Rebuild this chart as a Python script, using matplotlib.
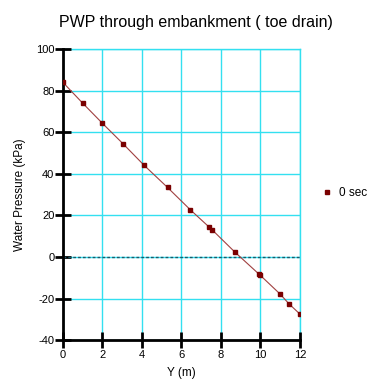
import matplotlib
matplotlib.use("Agg")
import matplotlib.pyplot as plt

plt.rcParams['font.family'] = ['Liberation Sans', 'DejaVu Sans']
plt.rcParams['axes.unicode_minus'] = False

# pore water pressure along the section at t = 0 sec
y_m = [0.0, 1.0, 2.0, 3.05, 4.1, 5.3, 6.45, 7.4, 7.55, 8.7, 9.93, 10.0, 11.0, 11.45, 12.0]
pwp_kpa = [84.0, 74.0, 64.3, 54.4, 44.2, 33.4, 22.7, 14.4, 13.1, 2.4, -8.3, -8.9, -17.9, -22.6, -27.5]
series_label = "0 sec"

x_ticks = [0, 2, 4, 6, 8, 10, 12]
y_ticks = [-40, -20, 0, 20, 40, 60, 80, 100]

fig = plt.figure(figsize=(3.74, 3.80), dpi=100)
ax = fig.add_axes([0.168, 0.105, 0.634, 0.766])

ax.plot(y_m, pwp_kpa, color='#a04040', lw=0.8, zorder=3)
ax.plot(y_m, pwp_kpa, ls='none', marker='s', ms=3.2, color='#7a0000',
        label=series_label, zorder=4)
ax.axhline(0, color='#1a5a6a', lw=1.0, ls=(0, (2, 1.5)), zorder=2)

ax.set_xlim(0, 12)
ax.set_ylim(-40, 100)
ax.set_xticks(x_ticks)
ax.set_yticks(y_ticks)
ax.grid(True, color='#33e0f0', lw=1.0, zorder=1)

for side in ['top', 'right']:
    ax.spines[side].set_visible(False)
for side in ['left', 'bottom']:
    ax.spines[side].set_linewidth(2.0)
    ax.spines[side].set_color('black')
ax.tick_params(direction='inout', length=12, width=2.0, labelsize=8, pad=1)
ax.tick_params(axis='y', pad=0)

# outer edges drawn as grid colour
ax.plot([0, 12], [100, 100], color='#33e0f0', lw=1.0, clip_on=False, zorder=1)
ax.plot([12, 12], [-40, 100], color='#33e0f0', lw=1.0, clip_on=False, zorder=1)

ax.set_title("PWP through embankment ( toe drain)", fontsize=11.5, pad=16, x=0.56)
ax.set_ylabel("Water Pressure (kPa)", fontsize=8.5, labelpad=7)
ax.set_xlabel("Y (m)", fontsize=8.5, labelpad=5)

ax.legend(loc='center left', bbox_to_anchor=(1.05, 0.505), frameon=False,
          fontsize=8.5, handlelength=0.8, handletextpad=0.6)

fig.savefig("out.png", dpi=100)
